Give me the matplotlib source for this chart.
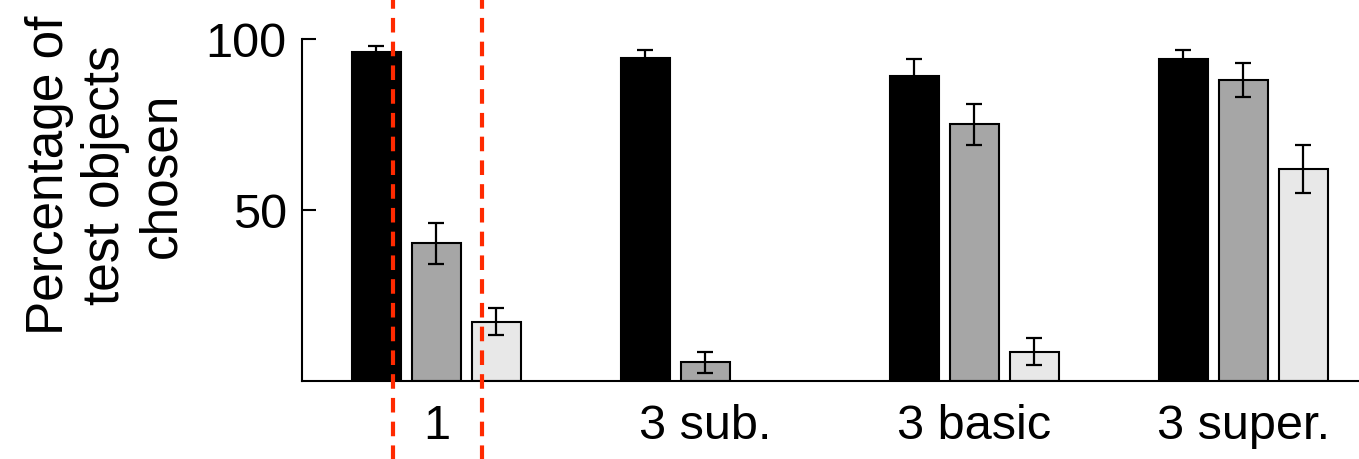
import matplotlib
matplotlib.use("Agg")
import matplotlib.pyplot as plt
import numpy as np

# conditions on the x axis
categories = ["1", "3 sub.", "3 basic", "3 super."]

# percentage chosen per test-object type (black / gray / light), nan = no bar
black_vals = [96.2, 94.4, 89.1, 94.2]
gray_vals = [40.3, 5.5, 75.1, 88.0]
light_vals = [17.3, np.nan, 8.6, 62.0]

black_err = [1.8, 2.5, 4.9, 2.7]
gray_err = [6.0, 3.1, 6.0, 5.0]
light_err = [4.0, np.nan, 4.0, 7.0]

# red dashed marker lines (in x data units)
marker_x = [-0.16, 0.17]

plt.rcParams['font.family'] = ['Liberation Sans', 'DejaVu Sans']

fig = plt.figure(figsize=(13.59, 4.60), dpi=100)
ax = fig.add_axes([0.2222, 0.1696, 0.7778, 0.7435])

x = np.arange(len(categories))
off = 0.223
w = 0.182
series = [
    (black_vals, black_err, "#000000", -off),
    (gray_vals, gray_err, "#a6a6a6", 0.0),
    (light_vals, light_err, "#e8e8e8", off),
]
for vals, errs, col, dx in series:
    ax.bar(x + dx, vals, width=w, color=col, edgecolor="black", linewidth=1.5, zorder=2)
    ax.errorbar(x + dx, vals, yerr=errs, fmt="none", ecolor="black",
                elinewidth=1.6, capsize=6, capthick=1.6, zorder=3)

for mx in marker_x:
    ax.axvline(mx, ymin=-0.23, ymax=1.12, clip_on=False, color="#ff2a00",
               linewidth=3, dashes=(3.5, 2.2), zorder=5)

ax.set_xlim(-0.5, 3.43)
ax.set_ylim(0, 100)
ax.set_yticks([50, 100])
ax.set_xticks(x)
ax.set_xticklabels(categories)
ax.tick_params(axis="y", direction="in", length=10, width=1.5, labelsize=35, pad=11)
ax.tick_params(axis="x", length=0, labelsize=35, pad=16)

for s in ["top", "right"]:
    ax.spines[s].set_visible(False)
ax.spines["left"].set_linewidth(1.5)
ax.spines["bottom"].set_linewidth(1.5)

ax.set_ylabel("Percentage of\ntest objects\nchosen", fontsize=37, linespacing=1.2)
ax.yaxis.set_label_coords(-0.109, 0.605)

fig.savefig("out.png", dpi=100)
